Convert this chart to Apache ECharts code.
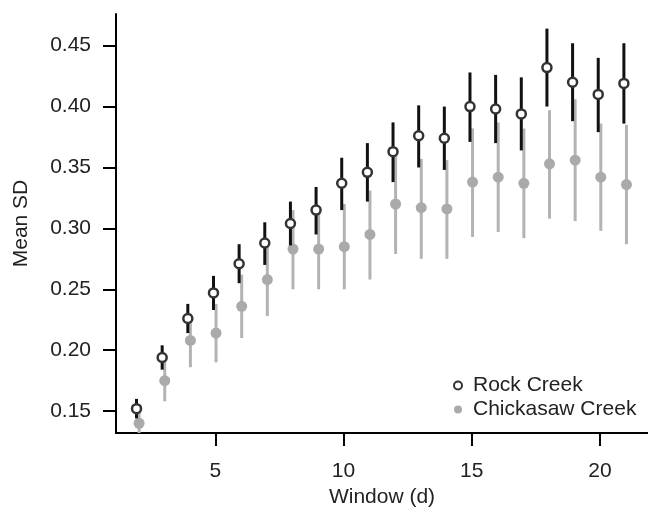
<!DOCTYPE html>
<html>
<head>
<meta charset="utf-8">
<script src="https://cdn.jsdelivr.net/npm/echarts@6/dist/echarts.min.js"></script>
<style>
  html, body { margin: 0; padding: 0; background: #fff; }
  #main { width: 648px; height: 516px; }
</style>
</head>
<body>
<div id="main"></div>
<script>
// window length (days)
var windows = [2, 3, 4, 5, 6, 7, 8, 9, 10, 11, 12, 13, 14, 15, 16, 17, 18, 19, 20, 21];

// Rock Creek: mean SD and interval ends
var rockMean = [0.152, 0.194, 0.226, 0.247, 0.271, 0.288, 0.304, 0.315, 0.337, 0.346, 0.363, 0.376, 0.374, 0.400, 0.398, 0.394, 0.432, 0.420, 0.410, 0.419];
var rockLow  = [0.144, 0.184, 0.214, 0.233, 0.255, 0.270, 0.286, 0.295, 0.315, 0.322, 0.338, 0.350, 0.348, 0.371, 0.370, 0.364, 0.400, 0.388, 0.379, 0.386];
var rockHigh = [0.160, 0.204, 0.238, 0.261, 0.287, 0.305, 0.322, 0.334, 0.358, 0.370, 0.387, 0.401, 0.400, 0.428, 0.426, 0.424, 0.464, 0.452, 0.440, 0.452];

// Chickasaw Creek
var chickMean = [0.140, 0.175, 0.208, 0.214, 0.236, 0.258, 0.283, 0.283, 0.285, 0.295, 0.320, 0.317, 0.316, 0.338, 0.342, 0.337, 0.353, 0.356, 0.342, 0.336];
var chickLow  = [0.128, 0.158, 0.186, 0.190, 0.210, 0.228, 0.250, 0.250, 0.250, 0.258, 0.279, 0.275, 0.275, 0.293, 0.297, 0.292, 0.308, 0.306, 0.298, 0.287];
var chickHigh = [0.150, 0.192, 0.230, 0.238, 0.262, 0.287, 0.315, 0.316, 0.320, 0.331, 0.360, 0.357, 0.356, 0.382, 0.387, 0.382, 0.397, 0.406, 0.386, 0.385];

var xTicks = [5, 10, 15, 20];
var yTicks = [0.15, 0.20, 0.25, 0.30, 0.35, 0.40, 0.45];

var FONT = '"Liberation Sans", Arial, sans-serif';
var rockShift = -0.07, chickShift = 0.03;

function pts(xs, ys, dx) {
  return xs.map(function (x, i) { return [x + dx, ys[i]]; });
}
function bars(xs, lo, hi, dx) {
  return xs.map(function (x, i) { return [x + dx, lo[i], hi[i]]; });
}
function barRenderer(color) {
  return function (params, api) {
    var a = api.coord([api.value(0), api.value(1)]);
    var b = api.coord([api.value(0), api.value(2)]);
    return {
      type: 'line',
      shape: { x1: a[0], y1: a[1], x2: b[0], y2: b[1] },
      style: { stroke: color, lineWidth: 3 }
    };
  };
}

var chart = echarts.init(document.getElementById('main'));
var option = {
  animation: false,
  backgroundColor: '#fff',
  grid: { left: 116, right: 0, top: 14, bottom: 83 },
  xAxis: {
    type: 'value', min: 1.13, max: 21.87,
    name: 'Window (d)', nameLocation: 'middle', nameGap: 53,
    nameTextStyle: { fontFamily: FONT, fontSize: 21, color: '#222' },
    axisLine: { show: true, onZero: false, lineStyle: { color: '#000', width: 2 } },
    axisTick: { show: true, length: 13, customValues: xTicks, lineStyle: { color: '#000', width: 2 } },
    axisLabel: { customValues: xTicks, margin: 28, fontFamily: FONT, fontSize: 21, color: '#222' },
    splitLine: { show: false }
  },
  yAxis: {
    type: 'value', min: 0.132, max: 0.476,
    name: 'Mean SD', nameLocation: 'middle', nameGap: 84,
    nameTextStyle: { fontFamily: FONT, fontSize: 21, color: '#222' },
    axisLine: { show: true, onZero: false, lineStyle: { color: '#000', width: 2 } },
    axisTick: { show: true, length: 13, customValues: yTicks, lineStyle: { color: '#000', width: 2 } },
    axisLabel: {
      customValues: yTicks, margin: 25, fontFamily: FONT, fontSize: 21, color: '#222',
      formatter: function (v) { return v.toFixed(2); }
    },
    splitLine: { show: false }
  },
  legend: {
    orient: 'vertical', left: 448, top: 370, itemGap: 3,
    itemWidth: 8, itemHeight: 8, icon: 'circle',
    textStyle: { fontFamily: FONT, fontSize: 21, color: '#222', padding: [0, 0, 0, 6] },
    data: [
      { name: 'Rock Creek', itemStyle: { color: '#fff', borderColor: '#333', borderWidth: 2 } },
      { name: 'Chickasaw Creek', itemStyle: { color: '#aaa' } }
    ]
  },
  series: [
    {
      name: 'Chickasaw bars', type: 'custom', clip: true, z: 1,
      renderItem: barRenderer('#b3b3b3'),
      data: bars(windows, chickLow, chickHigh, chickShift)
    },
    {
      name: 'Chickasaw Creek', type: 'scatter', z: 2,
      symbol: 'circle', symbolSize: 11,
      itemStyle: { color: '#aaa', opacity: 1 },
      data: pts(windows, chickMean, chickShift)
    },
    {
      name: 'Rock bars', type: 'custom', clip: true, z: 3,
      renderItem: barRenderer('#111'),
      data: bars(windows, rockLow, rockHigh, rockShift)
    },
    {
      name: 'Rock Creek', type: 'scatter', z: 4,
      symbol: 'circle', symbolSize: 9,
      itemStyle: { color: '#fff', borderColor: '#333', borderWidth: 2.5, opacity: 1 },
      data: pts(windows, rockMean, rockShift)
    }
  ]
};
chart.setOption(option);
</script>
</body>
</html>
